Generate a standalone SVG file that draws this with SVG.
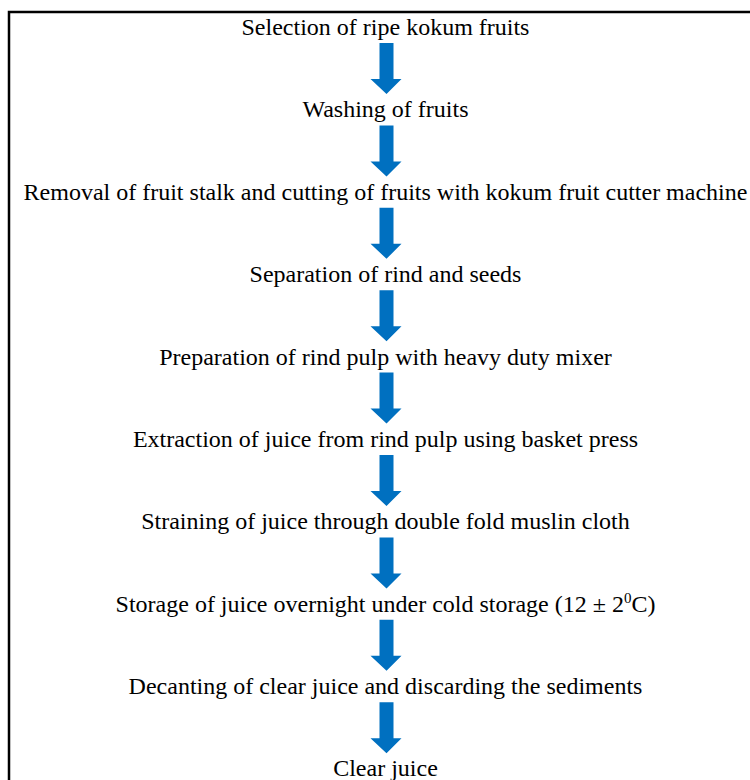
<svg xmlns="http://www.w3.org/2000/svg" width="750" height="780" viewBox="0 0 750 780">
<style>
.t{font-family:"Liberation Serif","Times New Roman",serif;font-size:24px;fill:#000;text-anchor:middle}
.a{fill:#0070C0}
</style>
<defs>
<path id="arr" class="a" d="M379.5,0 H393.5 V36 H401.5 L386.5,51 L370.5,36 H379.5 Z"/>
</defs>
<rect width="750" height="780" fill="#fff"/>
<path d="M9,790 V12 H760" fill="none" stroke="#000" stroke-width="2.5"/>
<g id="connectors">
<use href="#arr" y="43"/>
<use href="#arr" y="125.4"/>
<use href="#arr" y="207.8"/>
<use href="#arr" y="290.2"/>
<use href="#arr" y="372.6"/>
<use href="#arr" y="455"/>
<use href="#arr" y="537.4"/>
<use href="#arr" y="619.8"/>
<use href="#arr" y="702.2"/>
</g>
<g id="n1"><text class="t" x="385.5" y="35">Selection of ripe kokum fruits</text></g>
<g id="n2"><text class="t" x="385.5" y="117.4">Washing of fruits</text></g>
<g id="n3"><text class="t" x="385.5" y="199.8">Removal of fruit stalk and cutting of fruits with kokum fruit cutter machine</text></g>
<g id="n4"><text class="t" x="385.5" y="282.2">Separation of rind and seeds</text></g>
<g id="n5"><text class="t" x="385.5" y="364.6">Preparation of rind pulp with heavy duty mixer</text></g>
<g id="n6"><text class="t" x="385.5" y="447">Extraction of juice from rind pulp using basket press</text></g>
<g id="n7"><text class="t" x="385.5" y="529.4">Straining of juice through double fold muslin cloth</text></g>
<g id="n8"><text class="t" x="385.5" y="611.8">Storage of juice overnight under cold storage (12 ± 2<tspan dy="-9" font-size="15">0</tspan><tspan dy="9">C)</tspan></text></g>
<g id="n9"><text class="t" x="385.5" y="694.2">Decanting of clear juice and discarding the sediments</text></g>
<g id="n10"><text class="t" x="385.5" y="775.5">Clear juice</text></g>
</svg>
